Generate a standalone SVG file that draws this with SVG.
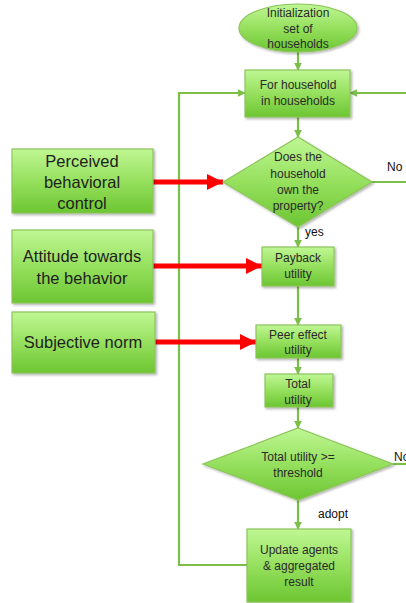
<svg xmlns="http://www.w3.org/2000/svg" width="406" height="603" viewBox="0 0 406 603">
<defs>
<linearGradient id="g" x1="0" y1="0" x2="0" y2="1">
<stop offset="0" stop-color="#bff794"/>
<stop offset="0.5" stop-color="#96e05e"/>
<stop offset="1" stop-color="#6cc632"/>
</linearGradient>
<filter id="sh" x="-10%" y="-10%" width="125%" height="125%">
<feDropShadow dx="1.5" dy="1.5" stdDeviation="1" flood-color="#000" flood-opacity="0.3"/>
</filter>
<marker id="ga" viewBox="0 0 10 10" refX="9" refY="5" markerWidth="3.5" markerHeight="3.5" orient="auto" markerUnits="strokeWidth">
<path d="M0,0 L10,5 L0,10 z" fill="#7bbf48"/>
</marker>
<marker id="ra" viewBox="0 0 10 10" refX="10" refY="5" markerWidth="3.2" markerHeight="3.2" orient="auto" markerUnits="strokeWidth">
<path d="M0,0 L10,5 L0,10 z" fill="#ff0000"/>
</marker>
</defs>
<style>
.n{fill:url(#g);stroke:#8cc45a;stroke-width:1.2;filter:url(#sh)}
.t{font-family:"Liberation Sans",Arial,sans-serif;font-size:12px;fill:#2a2a2a;text-anchor:middle}
.b{font-family:"Liberation Sans",Arial,sans-serif;font-size:16.5px;fill:#1e1e1e;text-anchor:middle}
.l{font-family:"Liberation Sans",Arial,sans-serif;font-size:12px;fill:#111}
.c{fill:none;stroke:#7bbf48;stroke-width:2.2}
.r{fill:none;stroke:#ff0000;stroke-width:5}
</style>
<g id="connectors">
<line class="c" x1="298" y1="52" x2="298" y2="70" marker-end="url(#ga)"/>
<line class="c" x1="298" y1="117" x2="298" y2="137" marker-end="url(#ga)"/>
<polyline class="c" points="247,565 179,565 179,93 245,93" marker-end="url(#ga)"/>
<line class="c" x1="406" y1="93" x2="350" y2="93" marker-end="url(#ga)"/>
<line class="c" x1="372" y1="182" x2="406" y2="182"/>
<line class="c" x1="298" y1="227" x2="298" y2="247" marker-end="url(#ga)"/>
<line class="c" x1="298" y1="286" x2="298" y2="325" marker-end="url(#ga)"/>
<line class="c" x1="298" y1="358" x2="298" y2="374" marker-end="url(#ga)"/>
<line class="c" x1="298" y1="407" x2="298" y2="428" marker-end="url(#ga)"/>
<line class="c" x1="393" y1="464" x2="406" y2="464"/>
<line class="c" x1="298" y1="500" x2="298" y2="529" marker-end="url(#ga)"/>
<line class="r" x1="153" y1="182" x2="223" y2="182" marker-end="url(#ra)"/>
<line class="r" x1="153" y1="266" x2="262" y2="266" marker-end="url(#ra)"/>
<line class="r" x1="155" y1="342" x2="256" y2="342" marker-end="url(#ra)"/>
<text class="l" x="387" y="171">No</text>
<text class="l" x="305" y="236">yes</text>
<text class="l" x="394" y="461">No</text>
<text class="l" x="318" y="518">adopt</text>
</g>
<g id="init">
<ellipse class="n" cx="298" cy="28" rx="59" ry="24"/>
<text class="t" x="298" y="17">Initialization</text>
<text class="t" x="298" y="33">set of</text>
<text class="t" x="298" y="48">households</text>
</g>
<g id="loop">
<rect class="n" x="245" y="70" width="105" height="47"/>
<text class="t" x="298" y="89">For household</text>
<text class="t" x="298" y="105">in households</text>
</g>
<g id="own">
<polygon class="n" points="298,137 372,182 298,227 223,182"/>
<text class="t" x="298" y="161">Does the</text>
<text class="t" x="298" y="178">household</text>
<text class="t" x="298" y="194">own the</text>
<text class="t" x="298" y="210">property?</text>
</g>
<g id="payback">
<rect class="n" x="262" y="247" width="72" height="39"/>
<text class="t" x="298" y="262">Payback</text>
<text class="t" x="298" y="278">utility</text>
</g>
<g id="peer">
<rect class="n" x="256" y="325" width="85" height="33"/>
<text class="t" x="298" y="339">Peer effect</text>
<text class="t" x="298" y="354">utility</text>
</g>
<g id="total">
<rect class="n" x="265" y="374" width="68" height="33"/>
<text class="t" x="298" y="388">Total</text>
<text class="t" x="298" y="404">utility</text>
</g>
<g id="threshold">
<polygon class="n" points="298,428 393,464 298,500 203,464"/>
<text class="t" x="298" y="461">Total utility &gt;=</text>
<text class="t" x="298" y="477">threshold</text>
</g>
<g id="update">
<rect class="n" x="247" y="529" width="104" height="73"/>
<text class="t" x="299" y="554">Update agents</text>
<text class="t" x="299" y="570">&amp; aggregated</text>
<text class="t" x="299" y="586">result</text>
</g>
<g id="pbc">
<rect class="n" x="12" y="149" width="141" height="64"/>
<text class="b" x="82" y="167">Perceived</text>
<text class="b" x="82" y="188">behavioral</text>
<text class="b" x="82" y="209">control</text>
</g>
<g id="attitude">
<rect class="n" x="12" y="230" width="141" height="73"/>
<text class="b" x="82" y="262">Attitude towards</text>
<text class="b" x="82" y="284">the behavior</text>
</g>
<g id="norm">
<rect class="n" x="12" y="312" width="143" height="61"/>
<text class="b" x="83" y="348">Subjective norm</text>
</g>
</svg>
